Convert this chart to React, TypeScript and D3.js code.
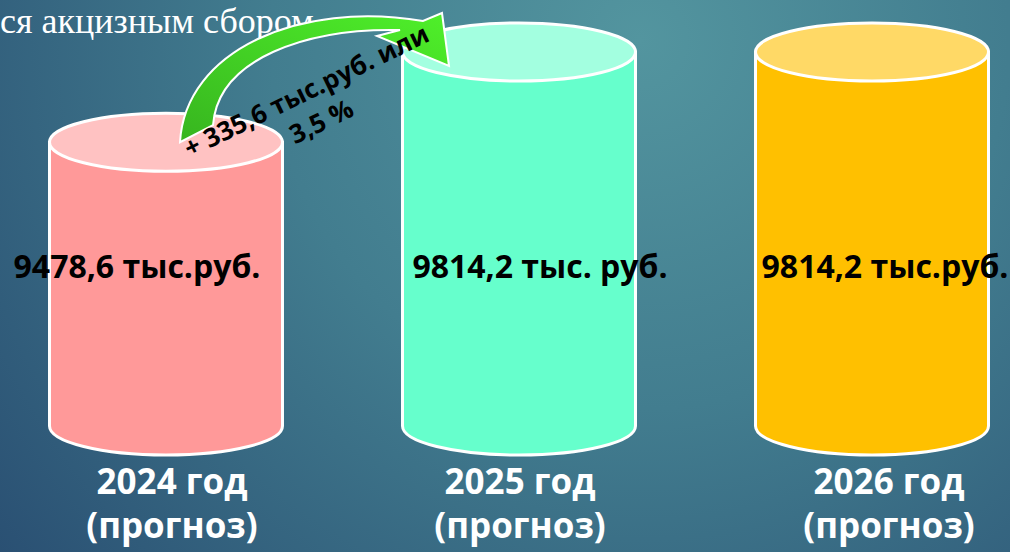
import React from "react";
import * as d3 from "d3";

// data
const years = ["2024 год", "2025 год", "2026 год"];
const yearNotes = ["(прогноз)", "(прогноз)", "(прогноз)"];
const values = [9478.6, 9814.2, 9814.2];
const valueLabels = ["9478,6 тыс.руб.", "9814,2 тыс. руб.", "9814,2 тыс.руб."];
const bodyColors = ["#FF9999", "#66FFCC", "#FFC000"];
const topColors = ["#FFC2C2", "#A3FFE0", "#FFD966"];
const deltaLines = ["+ 335,6 тыс.руб. или", "3,5 %"];
const titleText = "ся акцизным сбором";

const W = 1010;
const H = 552;
const BASE = 426;
const RY = 29;
// manual nudges of the text boxes relative to cylinder centres
const labelDx = [-29, 21, 13];
const yearDx = [6, 1, 17];

const FONT = "'Open Sans', 'Noto Sans', sans-serif";

export default function App() {
  const x = d3
    .scaleBand<string>()
    .domain(years)
    .range([49.5, 988.5])
    .paddingInner(0.34)
    .paddingOuter(0);

  // the value axis doesn't start at zero in the original
  const y = d3.scaleLinear().domain([8423, 9814.2]).range([BASE, 52]);

  const bw = x.bandwidth();
  const rx = bw / 2;

  const cylBody = (i: number) => {
    const x0 = x(years[i])!;
    const x1 = x0 + bw;
    const yt = y(values[i]);
    const p = d3.path();
    p.moveTo(x0, yt);
    p.lineTo(x0, BASE);
    // bottom half ellipse via bezier
    const k = 0.5523;
    const cx = x0 + rx;
    p.bezierCurveTo(x0, BASE + RY * k, cx - rx * k, BASE + RY, cx, BASE + RY);
    p.bezierCurveTo(cx + rx * k, BASE + RY, x1, BASE + RY * k, x1, BASE);
    p.lineTo(x1, yt);
    p.closePath();
    return p.toString();
  };

  // curved arrow from the top of the 2024 cylinder to the top of 2025
  const ax = x(years[0])! + rx;
  const ay = y(values[0]);
  const bx = x(years[1])! + rx;
  const by = y(values[1]);
  const arrow = d3.path();
  arrow.moveTo(ax + 14, ay);
  arrow.bezierCurveTo(ax + 19, ay - 92, bx - 219, by - 52, bx - 96, by - 31);
  arrow.lineTo(bx - 77, by - 39);
  arrow.lineTo(bx - 70, by + 14);
  arrow.lineTo(bx - 142, by - 16);
  arrow.lineTo(bx - 119, by - 22);
  arrow.bezierCurveTo(bx - 212, by - 24, ax + 52, ay - 84, ax + 47, ay - 17);
  arrow.closePath();

  return (
    <svg
      width={W}
      height={H}
      style={{ position: "absolute", left: 0, top: 0, display: "block" }}
    >
      <defs>
        <radialGradient id="bg" cx="640" cy="40" r="820" gradientUnits="userSpaceOnUse">
          <stop offset="0" stopColor="#53959f" />
          <stop offset="0.45" stopColor="#427d8f" />
          <stop offset="1" stopColor="#2a5073" />
        </radialGradient>
        <linearGradient id="arrowFill" x1="0" y1="1" x2="1" y2="0">
          <stop offset="0" stopColor="#37b51f" />
          <stop offset="1" stopColor="#4ff02a" />
        </linearGradient>
      </defs>
      <rect width={W} height={H} fill="url(#bg)" />

      <text
        x={0}
        y={33}
        fill="#ffffff"
        fontFamily="'Liberation Serif', 'DejaVu Serif', serif"
        fontSize={36}
      >
        {titleText}
      </text>

      {years.map((yr, i) => {
        const x0 = x(yr)!;
        const yt = y(values[i]);
        return (
          <g key={yr}>
            <path d={cylBody(i)} fill={bodyColors[i]} stroke="#ffffff" strokeWidth={3} />
            <ellipse
              cx={x0 + rx}
              cy={yt}
              rx={rx}
              ry={RY}
              fill={topColors[i]}
              stroke="#ffffff"
              strokeWidth={3}
            />
          </g>
        );
      })}

      <path d={arrow.toString()} fill="url(#arrowFill)" stroke="#ffffff" strokeWidth={2} />

      <g transform={`translate(${(ax + bx) / 2 - 36},${(ay + by) / 2 - 6}) rotate(-26)`}>
        {deltaLines.map((t, i) => (
          <text
            key={i}
            x={0}
            y={9 + i * 34}
            textAnchor="middle"
            fontFamily={FONT}
            fontWeight={700}
            fontSize={26}
            fill="#000000"
          >
            {t}
          </text>
        ))}
      </g>

      {years.map((yr, i) => (
        <text
          key={"v" + i}
          x={x(yr)! + rx + labelDx[i]}
          y={278}
          textAnchor="middle"
          fontFamily={FONT}
          fontWeight={700}
          fontSize={32}
          fill="#000000"
        >
          {valueLabels[i]}
        </text>
      ))}

      {years.map((yr, i) => (
        <g key={"y" + i} fill="#ffffff" fontFamily={FONT} fontWeight={700} fontSize={35}>
          <text x={x(yr)! + rx + yearDx[i]} y={494} textAnchor="middle">
            {yr}
          </text>
          <text x={x(yr)! + rx + yearDx[i]} y={538} textAnchor="middle">
            {yearNotes[i]}
          </text>
        </g>
      ))}
    </svg>
  );
}
